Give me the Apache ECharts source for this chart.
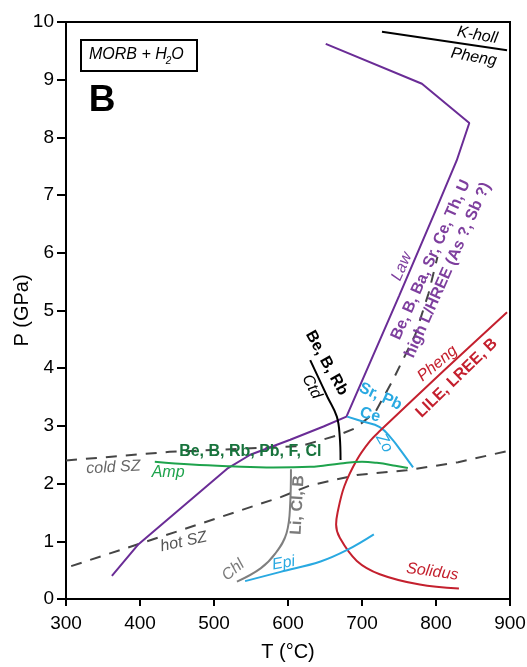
<!DOCTYPE html>
<html><head><meta charset="utf-8">
<script src="https://cdn.jsdelivr.net/npm/echarts@6/dist/echarts.min.js"></script>
<style>html,body{margin:0;padding:0;background:#fff}#c{width:527px;height:667px}</style>
</head><body><div id="c"></div>
<script>
// ---- data (T in °C, P in GPa) ----
const xTickMin = 300, xTickMax = 900, xTickStep = 100;
const yTickMin = 0, yTickMax = 10, yTickStep = 1;

const lawT = [362, 398, 519, 549, 603, 648, 679, 750, 800, 828, 845, 781, 651];
const lawP = [0.40, 0.95, 2.27, 2.50, 2.76, 2.99, 3.16, 5.25, 6.75, 7.60, 8.25, 8.93, 9.62];

const kholT = [727, 896];
const kholP = [9.83, 9.51];

const ctdT = [630, 653, 666, 670, 671];
const ctdP = [4.14, 3.51, 3.16, 2.80, 2.41];

const zoT = [680, 700, 724, 740, 752, 769];
const zoP = [3.16, 3.08, 2.98, 2.78, 2.58, 2.28];

const solT = [896, 810, 724, 711, 693, 676, 667, 665, 670, 693, 724, 778, 831];
const solP = [4.97, 3.95, 2.91, 2.74, 2.41, 1.95, 1.50, 1.29, 1.06, 0.66, 0.43, 0.25, 0.18];

const ampT = [420, 470, 522, 580, 630, 671, 700, 720, 745, 762];
const ampP = [2.38, 2.33, 2.30, 2.28, 2.29, 2.35, 2.38, 2.36, 2.31, 2.27];

const chlT = [604, 603, 598, 583, 563, 531];
const chlP = [2.25, 1.66, 1.14, 0.79, 0.53, 0.30];

const epiT = [542, 590, 644, 680, 716];
const epiP = [0.31, 0.47, 0.65, 0.85, 1.12];

const coldT = [300, 440, 617, 668, 691, 718, 742, 772, 790, 802];
const coldP = [2.40, 2.55, 2.65, 2.84, 2.96, 3.24, 3.80, 4.58, 5.30, 5.93];

const hotT = [307, 450, 591, 630, 693, 760, 830, 895];
const hotP = [0.57, 1.17, 1.77, 1.97, 2.15, 2.23, 2.37, 2.56];

// annotation texts anchored at (T, P), rotation in degrees (ccw)
const annText = ['K-holl', 'Pheng', 'Law', 'Be, B, Ba, Sr, Ce, Th, U', 'high L/HREE (As ?, Sb ?)',
  'Be, B, Rb', 'Ctd', 'Sr, Pb', 'Ce', 'Zo', 'Pheng', 'LILE, LREE, B',
  'Be, B, Rb, Pb, F, Cl', 'Amp', 'cold SZ', 'hot SZ', 'Li, Cl, B', 'Chl', 'Epi', 'Solidus'];
const annT = [856, 851, 754, 793, 816, 652, 632, 725, 711, 730, 802, 828, 549, 438, 364, 459, 613, 526, 594, 795];
const annP = [9.77, 9.39, 5.76, 5.88, 5.70, 4.09, 3.68, 3.51, 3.19, 2.70, 4.08, 3.83, 2.55, 2.19, 2.28, 0.99, 1.63, 0.50, 0.62, 0.47];
const annRot = [-10, -10, 66, 66, 66, -61, -62, -25, -15, -60, 40, 44, 0, 0, 3, 12, 87, 40, 10, -8];

// ---- styles ----
const FONT = '"Liberation Sans", Arial, Helvetica, sans-serif';
const PURPLE = '#6a2c96', PURPLE_T = '#7e3f9e', RED = '#c4202e', BLUE = '#29a9e1',
      GREEN = '#1ea34c', GREEN_T = '#17733c', GREY = '#7f7f7f', DASH = '#454545';
const annStyle = [
  ['italic', '#000'], ['italic', '#000'], ['italic', PURPLE_T], ['bold', PURPLE_T], ['bold', PURPLE_T],
  ['bold', '#000'], ['italic', '#000'], ['bold', BLUE], ['bold', BLUE], ['italic', BLUE],
  ['italic', RED], ['bold', RED], ['bold', GREEN_T], ['italic', GREEN], ['italic', '#666'],
  ['italic', '#555'], ['bold', '#7a7a7a'], ['italic', '#7a7a7a'], ['italic', BLUE], ['italic', RED]
];

const zip = (a, b) => a.map((v, i) => [v, b[i]]);
function line(name, T, P, color, opts) {
  return Object.assign({
    name, type: 'line', data: zip(T, P), showSymbol: false, symbol: 'none',
    silent: true, lineStyle: { color, width: 2 }, z: 3
  }, opts || {});
}

const chart = echarts.init(document.getElementById('c'), null, { renderer: 'canvas' });
const option = {
  animation: false,
  backgroundColor: '#fff',
  grid: { left: 66, right: 17, top: 22, bottom: 68, show: true, borderColor: '#000', borderWidth: 2,
    containLabel: false, outerBoundsMode: 'none' },
  xAxis: {
    type: 'value', min: xTickMin, max: xTickMax, interval: xTickStep,
    name: 'T (°C)', nameLocation: 'middle', nameGap: 43, nameMoveOverlap: false,
    nameTextStyle: { fontFamily: FONT, fontSize: 20, color: '#000' },
    axisLine: { show: true, lineStyle: { color: '#000', width: 2 } },
    axisTick: { show: true, inside: false, length: 7, lineStyle: { color: '#000', width: 2 } },
    axisLabel: { fontFamily: FONT, fontSize: 19, color: '#000', margin: 15 },
    splitLine: { show: false }
  },
  yAxis: {
    type: 'value', min: yTickMin, max: yTickMax, interval: yTickStep,
    name: 'P (GPa)', nameLocation: 'middle', nameGap: 34, nameMoveOverlap: false,
    nameTextStyle: { fontFamily: FONT, fontSize: 20, color: '#000' },
    axisLine: { show: true, lineStyle: { color: '#000', width: 2 } },
    axisTick: { show: true, inside: false, length: 9, lineStyle: { color: '#000', width: 2 } },
    axisLabel: { fontFamily: FONT, fontSize: 19, color: '#000', margin: 12 },
    splitLine: { show: false }
  },
  series: [
    line('cold SZ', coldT, coldP, DASH, { lineStyle: { color: DASH, width: 2, type: [11, 9] }, z: 2 }),
    line('hot SZ', hotT, hotP, DASH, { lineStyle: { color: DASH, width: 2, type: [11, 9] }, z: 2 }),
    line('Law', lawT, lawP, PURPLE),
    line('K-holl', kholT, kholP, '#000'),
    line('Ctd', ctdT, ctdP, '#000', { smooth: 0.4 }),
    line('Zo', zoT, zoP, BLUE, { smooth: 0.4 }),
    line('Solidus', solT, solP, RED, { smooth: 0.35 }),
    line('Amp', ampT, ampP, GREEN, { smooth: 0.4 }),
    line('Chl', chlT, chlP, GREY, { smooth: 0.4 }),
    line('Epi', epiT, epiP, BLUE, { smooth: 0.4 })
  ]
};
chart.setOption(option);

const graphics = annText.map((t, i) => {
  const pt = chart.convertToPixel({ gridIndex: 0 }, [annT[i], annP[i]]);
  const st = annStyle[i];
  return {
    type: 'text', x: pt[0], y: pt[1], rotation: annRot[i] * Math.PI / 180, z: 10,
    style: { text: t, align: 'center', verticalAlign: 'middle',
      font: st[0] + ' 16px ' + FONT, fill: st[1] }
  };
});
// panel tag "MORB + H2O" with subscript
const ctx = document.createElement('canvas').getContext('2d');
const mainFont = 'italic 16px ' + FONT, subFont = 'italic 10px ' + FONT;
ctx.font = mainFont; const w1 = ctx.measureText('MORB + H').width;
ctx.font = subFont; const w2 = ctx.measureText('2').width;
const tagX = 89, tagY = 55;
graphics.push({
  type: 'rect', shape: { x: 81, y: 40, width: 116, height: 31 }, z: 10,
  style: { fill: '#fff', stroke: '#000', lineWidth: 2 }
});
graphics.push({ type: 'text', x: tagX, y: tagY, z: 11,
  style: { text: 'MORB + H', align: 'left', verticalAlign: 'middle', font: mainFont, fill: '#000' } });
graphics.push({ type: 'text', x: tagX + w1 - 1, y: tagY + 6, z: 11,
  style: { text: '2', align: 'left', verticalAlign: 'middle', font: subFont, fill: '#000' } });
graphics.push({ type: 'text', x: tagX + w1 + w2 - 1, y: tagY, z: 11,
  style: { text: 'O', align: 'left', verticalAlign: 'middle', font: mainFont, fill: '#000' } });
graphics.push({
  type: 'text', x: 102, y: 101, z: 11,
  style: { text: 'B', align: 'center', verticalAlign: 'middle', font: 'bold 37px ' + FONT, fill: '#000' }
});
chart.setOption({ graphic: graphics });
</script></body></html>
